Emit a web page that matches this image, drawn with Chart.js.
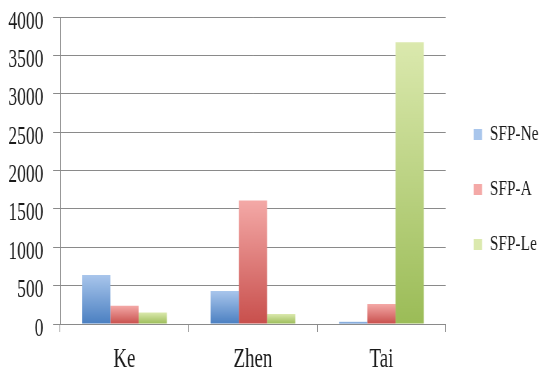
<!DOCTYPE html>
<html>
<head>
<meta charset="utf-8">
<script src="https://cdn.jsdelivr.net/npm/chart.js@4.4.1/dist/chart.umd.min.js"></script>
<style>
  html, body { margin: 0; padding: 0; background: #fff; overflow: hidden; }
  /* the picture is squeezed sideways, so draw it wide and squeeze it back */
  #wrap { width: 780px; height: 371px; transform: scaleX(0.7); transform-origin: 0 0; }
</style>
</head>
<body>
<div id="wrap"><canvas id="chart" width="780" height="371"></canvas></div>
<script>
const categories = ['Ke', 'Zhen', 'Tai'];
const seriesNames = ['SFP-Ne', 'SFP-A', 'SFP-Le'];
const sfpNe = [640, 430, 30];
const sfpA = [238, 1610, 260];
const sfpLe = [150, 130, 3670];
const yTicks = [0, 500, 1000, 1500, 2000, 2500, 3000, 3500, 4000];

const FONT = 'Liberation Serif';
const GRID = '#8a8a8a';

// each bar goes from light at its top to dark at its base
function barFill(light, dark, flat) {
  return function (c) {
    const y = c.chart.scales.y;
    if (c.type !== 'data' || !y || !c.parsed) return flat;
    const top = y.getPixelForValue(c.parsed.y);
    const base = y.getPixelForValue(0);
    if (!isFinite(top) || !isFinite(base) || top === base) return flat;
    const g = c.chart.ctx.createLinearGradient(0, top, 0, base);
    g.addColorStop(0, light);
    g.addColorStop(1, dark);
    return g;
  };
}

const ctx = document.getElementById('chart').getContext('2d');

new Chart(ctx, {
  type: 'bar',
  data: {
    labels: categories,
    datasets: [
      { label: seriesNames[0], data: sfpNe, backgroundColor: barFill('#a9c6ec', '#4a7fc1', '#6f9bd6') },
      { label: seriesNames[1], data: sfpA, backgroundColor: barFill('#f4a9a7', '#c84f4c', '#e07472') },
      { label: seriesNames[2], data: sfpLe, backgroundColor: barFill('#dbe9ae', '#9bbc57', '#bcd78a') },
    ],
  },
  options: {
    responsive: false,
    animation: false,
    devicePixelRatio: 1,
    categoryPercentage: 0.66,
    barPercentage: 1.0,
    layout: { padding: { top: 8, left: 12, right: 10, bottom: 0 } },
    scales: {
      x: {
        afterFit: (s) => { s.height = 47; },
        grid: { display: true, drawOnChartArea: false, offset: true, tickLength: 8, color: GRID },
        border: { display: true, color: GRID },
        ticks: { color: '#1a1a1a', padding: 16, font: { family: FONT, size: 27, lineHeight: 0.9 } },
      },
      y: {
        min: 0,
        max: 4000,
        afterBuildTicks: (s) => { s.ticks = yTicks.map((v) => ({ value: v })); },
        afterFit: (s) => { s.width = 74; },
        grid: { color: GRID, tickLength: 10 },
        border: { display: true, color: GRID },
        ticks: {
          color: '#1a1a1a', padding: 14, labelOffset: 5,
          font: { family: FONT, size: 25, lineHeight: 0.24 },
          callback: (v) => String(v),
        },
      },
      // empty strip between the plot and the legend
      gap: {
        type: 'linear',
        position: 'right',
        grid: { display: false },
        border: { display: false },
        ticks: { display: false },
        afterFit: (s) => { s.width = 7; },
      },
    },
    plugins: {
      legend: {
        position: 'right',
        labels: {
          color: '#1a1a1a',
          boxWidth: 12,
          boxHeight: 11,
          padding: 33,
          font: { family: FONT, size: 22 },
        },
      },
      tooltip: { enabled: false },
    },
  },
});
</script>
</body>
</html>
